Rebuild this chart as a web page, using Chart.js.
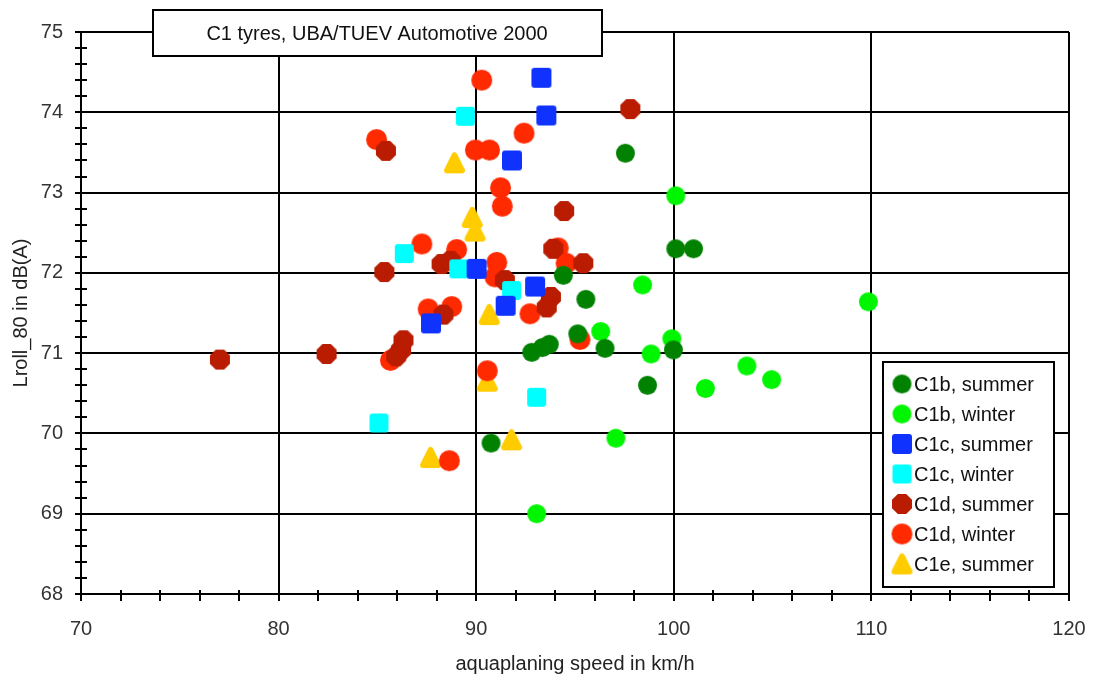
<!DOCTYPE html>
<html>
<head>
<meta charset="utf-8">
<script src="https://cdn.jsdelivr.net/npm/chart.js@4/dist/chart.umd.min.js"></script>
<style>
  html, body { margin: 0; padding: 0; background: #fff; }
  #wrap { width: 1093px; height: 677px; }
</style>
</head>
<body>
<div id="wrap"><canvas id="mainChart" width="1093" height="677"></canvas></div>
<script>
// [aquaplaning speed km/h, Lroll_80 dB(A)]
const c1bSummer = [
  [97.55, 73.49], [100.1, 72.30], [101.0, 72.30], [94.41, 71.97], [95.55, 71.67],
  [95.14, 71.24], [96.52, 71.06], [92.81, 71.01], [93.35, 71.07], [93.7, 71.11],
  [99.98, 71.04], [98.67, 70.60], [90.75, 69.88],
];
const c1bWinter = [
  [100.1, 72.96], [98.42, 71.85], [109.85, 71.64], [96.3, 71.27], [99.9, 71.18],
  [98.85, 70.99], [103.7, 70.84], [104.95, 70.67], [101.6, 70.56], [97.07, 69.94],
  [93.06, 69.00],
];
const c1cSummer = [
  [93.3, 74.43], [93.55, 73.96], [91.81, 73.40], [90.02, 72.05], [92.98, 71.83],
  [91.49, 71.59], [87.71, 71.37],
];
const c1cWinter = [
  [89.45, 73.95], [86.36, 72.24], [89.12, 72.05], [91.79, 71.78], [93.06, 70.45],
  [85.08, 70.13],
];
const c1dSummer = [
  [97.8, 74.04], [85.43, 73.52], [94.45, 72.77], [93.9, 72.30], [95.42, 72.12],
  [88.25, 72.11], [88.7, 72.15], [85.35, 72.01], [91.45, 71.91], [93.78, 71.70],
  [93.57, 71.57], [88.34, 71.48], [86.32, 71.16], [86.2, 71.04], [85.95, 70.96],
  [82.43, 70.99], [77.03, 70.92],
];
const c1dWinter = [
  [90.28, 74.40], [84.96, 73.66], [92.42, 73.74], [89.96, 73.53], [90.67, 73.53],
  [91.23, 73.06], [91.32, 72.83], [87.25, 72.36], [89.01, 72.29], [94.15, 72.31],
  [94.55, 72.12], [91.04, 72.13], [90.95, 71.95], [92.72, 71.49], [87.57, 71.55],
  [88.76, 71.58], [85.66, 70.91], [95.25, 71.17], [90.56, 70.78], [88.64, 69.66],
];
const c1eSummer = [
  [88.9, 73.37], [89.8, 72.69], [89.94, 72.52], [90.66, 71.48], [90.56, 70.65],
  [91.79, 69.92], [87.69, 69.70],
];

const seriesNames = ['C1b, summer', 'C1b, winter', 'C1c, summer', 'C1c, winter',
  'C1d, summer', 'C1d, winter', 'C1e, summer'];
const chartTitle = 'C1 tyres, UBA/TUEV Automotive 2000';
const xTitle = 'aquaplaning speed in km/h';
const yTitle = 'Lroll_80 in dB(A)';

const FONT = "'Liberation Sans', Arial, sans-serif";

// marker images
function marker(shape, color, size) {
  const c = document.createElement('canvas');
  c.width = size + 2; c.height = size + 2;
  const g = c.getContext('2d');
  const m = c.width / 2;
  g.fillStyle = color;
  g.strokeStyle = color;
  g.beginPath();
  if (shape === 'circle') {
    g.arc(m, m, size / 2, 0, Math.PI * 2);
    g.fill();
  } else if (shape === 'square') {
    g.roundRect(1, 1, size, size, 3);
    g.fill();
  } else if (shape === 'octagon') {
    const r = size / 2 / Math.cos(Math.PI / 8);
    for (let i = 0; i < 8; i++) {
      const a = Math.PI / 8 + i * Math.PI / 4;
      g.lineTo(m + r * Math.cos(a), m + r * Math.sin(a));
    }
    g.closePath();
    g.fill();
  } else if (shape === 'triangle') {
    const k = 3;
    g.moveTo(m, 1 + k);
    g.lineTo(1 + size - k, 1 + size - k);
    g.lineTo(1 + k, 1 + size - k);
    g.closePath();
    g.lineWidth = 2 * k;
    g.lineJoin = 'round';
    g.fill();
    g.stroke();
  }
  return c;
}

const styles = [
  { data: c1bSummer, color: '#008200', img: marker('circle', '#008200', 19), order: 2 },
  { data: c1bWinter, color: '#00f500', img: marker('circle', '#00f500', 19), order: 3 },
  { data: c1cSummer, color: '#0f32ff', img: marker('square', '#0f32ff', 20), order: 0 },
  { data: c1cWinter, color: '#00ffff', img: marker('square', '#00ffff', 19), order: 1 },
  { data: c1dSummer, color: '#b91c00', img: marker('octagon', '#b91c00', 20), order: 4 },
  { data: c1dWinter, color: '#ff2a00', img: marker('circle', '#ff2a00', 21), order: 5 },
  { data: c1eSummer, color: '#ffcc00', img: marker('triangle', '#ffcc00', 21), order: 6 },
];

const datasets = styles.map((s, i) => ({
  label: seriesNames[i],
  data: s.data.map(([x, y]) => ({ x, y })),
  pointStyle: s.img,
  pointRadius: 10,
  backgroundColor: s.color,
  borderColor: s.color,
  order: s.order,
}));

const boxesPlugin = {
  id: 'boxes',
  afterDraw(chart) {
    const { ctx, scales: { x, y } } = chart;
    ctx.save();
    // minor + major tick marks crossing the axes
    ctx.strokeStyle = '#000';
    ctx.lineWidth = 2;
    ctx.beginPath();
    for (let v = 70; v <= 120.001; v += 2) {
      const px = Math.round(x.getPixelForValue(v));
      ctx.moveTo(px, y.bottom - 4);
      ctx.lineTo(px, y.bottom + 7);
    }
    for (let v = 68; v <= 75.001; v += 0.2) {
      const py = Math.round(y.getPixelForValue(v));
      ctx.moveTo(x.left - 6, py);
      ctx.lineTo(x.left + 6, py);
    }
    ctx.stroke();

    // title box
    ctx.fillStyle = '#fff';
    ctx.fillRect(153, 10, 449, 46);
    ctx.strokeRect(153, 10, 449, 46);
    ctx.fillStyle = '#111';
    ctx.font = '20px ' + FONT;
    ctx.textAlign = 'center';
    ctx.textBaseline = 'middle';
    ctx.fillText(chartTitle, 377, 34);

    // legend box
    ctx.fillStyle = '#fff';
    ctx.fillRect(883, 362, 171, 225);
    ctx.strokeRect(883, 362, 171, 225);
    ctx.textAlign = 'left';
    chart.data.datasets.forEach((ds, i) => {
      const cy = 384 + i * 30;
      const img = ds.pointStyle;
      ctx.drawImage(img, 902 - img.width / 2, cy - img.height / 2);
      ctx.fillStyle = '#111';
      ctx.fillText(ds.label, 914, cy + 1);
    });
    ctx.restore();
  },
};

new Chart(document.getElementById('mainChart'), {
  type: 'scatter',
  data: { datasets },
  options: {
    responsive: false,
    animation: false,
    layout: { padding: { top: 32, right: 24, left: 0, bottom: 0 } },
    plugins: {
      legend: { display: false },
      tooltip: { enabled: false },
    },
    scales: {
      x: {
        type: 'linear',
        min: 70,
        max: 120,
        afterFit: (s) => { s.height = 83; s.paddingLeft = 0; s.paddingRight = 0; },
        border: { display: true, color: '#000', width: 2 },
        grid: { color: '#000', lineWidth: 2, drawTicks: false },
        ticks: {
          stepSize: 10,
          padding: 23,
          color: '#333',
          font: { family: FONT, size: 20 },
        },
        title: {
          display: true,
          text: xTitle,
          color: '#222',
          font: { family: FONT, size: 20 },
          padding: { top: 0, bottom: 1 },
        },
      },
      y: {
        type: 'linear',
        min: 68,
        max: 75,
        afterFit: (s) => { s.width = 81; s.paddingTop = 0; s.paddingBottom = 0; },
        border: { display: true, color: '#000', width: 2 },
        grid: { color: '#000', lineWidth: 2, drawTicks: false },
        ticks: {
          stepSize: 1,
          padding: 18,
          color: '#333',
          font: { family: FONT, size: 20 },
        },
        title: {
          display: true,
          text: yTitle,
          color: '#222',
          font: { family: FONT, size: 20 },
          padding: { top: 9, bottom: 0 },
        },
      },
    },
  },
  plugins: [boxesPlugin],
});
</script>
</body>
</html>
